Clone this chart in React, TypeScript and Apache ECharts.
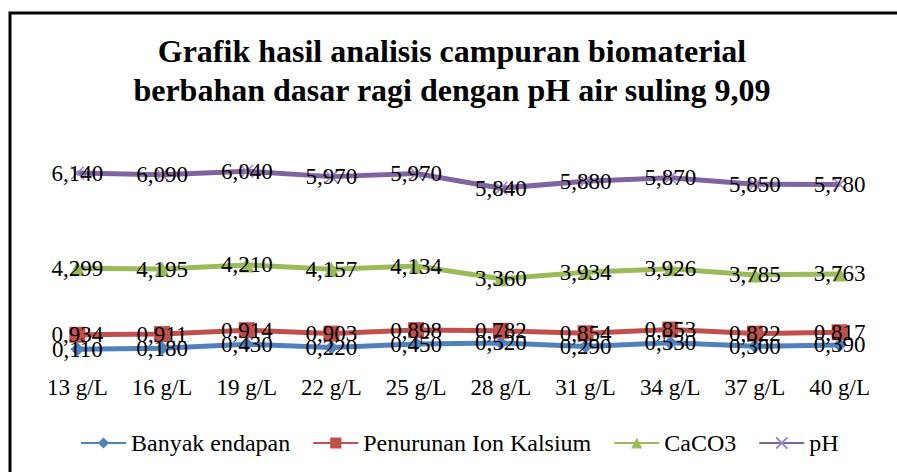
import React, { useEffect, useRef } from "react";
import * as echarts from "echarts";

const categories = ["13 g/L", "16 g/L", "19 g/L", "22 g/L", "25 g/L", "28 g/L", "31 g/L", "34 g/L", "37 g/L", "40 g/L"];
const banyakEndapan = [0.11, 0.18, 0.43, 0.22, 0.45, 0.52, 0.29, 0.53, 0.3, 0.39];
const penurunanIonKalsium = [0.934, 0.911, 0.914, 0.903, 0.898, 0.782, 0.854, 0.853, 0.822, 0.817];
const caco3 = [4.299, 4.195, 4.21, 4.157, 4.134, 3.36, 3.934, 3.926, 3.785, 3.763];
const ph = [6.14, 6.09, 6.04, 5.97, 5.97, 5.84, 5.88, 5.87, 5.85, 5.78];

const FONT = "'Liberation Serif', 'Times New Roman', serif";

const fmt = (p: any) => Number(p.value).toFixed(3).replace(".", ",");

export default function App() {
  const ref = useRef<HTMLDivElement>(null);
  useEffect(() => {
    if (!ref.current) return;
    const chart = echarts.init(ref.current, null, { renderer: "svg" });
    const label = {
      show: true,
      position: "inside",
      color: "#000",
      fontFamily: FONT,
      fontSize: 23,
      formatter: fmt,
    };
    const mk = (name: string, data: number[], color: string, symbol: string, symbolSize: number, extra: any = {}) => ({
      name,
      type: "line",
      stack: "total",
      data,
      symbol,
      symbolSize,
      showSymbol: true,
      lineStyle: { color, width: 5 },
      itemStyle: { color },
      label,
      ...extra,
    });
    chart.setOption({
      animation: false,
      backgroundColor: "#fff",
      title: {
        text: "Grafik hasil analisis campuran biomaterial\nberbahan dasar ragi dengan pH air suling 9,09",
        left: 452,
        textAlign: "center",
        top: 31,
        padding: 0,
        textStyle: { fontFamily: FONT, fontWeight: "bold", fontSize: 32, lineHeight: 39, color: "#000" },
      },
      graphic: [
        {
          type: "rect",
          shape: { x: 10, y: 13, width: 900, height: 480 },
          style: { fill: "none", stroke: "#000", lineWidth: 3 },
          silent: true,
        },
      ],
      legend: {
        left: 80,
        top: 431,
        padding: 0,
        itemWidth: 45,
        itemHeight: 14,
        itemGap: 22,
        textStyle: { fontFamily: FONT, fontSize: 24, color: "#000" },
        data: ["Banyak endapan", "Penurunan Ion Kalsium", "CaCO3", "pH"],
      },
      grid: { left: 35, right: 15, top: 134, bottom: 121, containLabel: false },
      xAxis: {
        type: "category",
        data: categories,
        boundaryGap: true,
        axisLine: { show: false },
        axisTick: { show: false },
        axisLabel: { margin: 25, color: "#000", fontFamily: FONT, fontSize: 23 },
      },
      yAxis: {
        type: "value",
        min: 0,
        max: 14,
        interval: 2,
        show: false,
        splitLine: { show: false },
      },
      series: [
        mk("Banyak endapan", banyakEndapan, "#4F81BD", "diamond", 14),
        mk("Penurunan Ion Kalsium", penurunanIonKalsium, "#C0504D", "rect", 16),
        mk("CaCO3", caco3, "#9BBB59", "triangle", 15),
        mk("pH", ph, "#8064A2", "path://M0,0L10,10M10,0L0,10", 13, {
          itemStyle: { color: "#8064A2", borderColor: "#9B86C0", borderWidth: 1.5 },
        }),
      ],
    });
    return () => chart.dispose();
  }, []);
  return (
    <div style={{ position: "absolute", left: 0, top: 0, width: 897, height: 472 }}>
      <div ref={ref} style={{ width: 897, height: 472 }} />
    </div>
  );
}
